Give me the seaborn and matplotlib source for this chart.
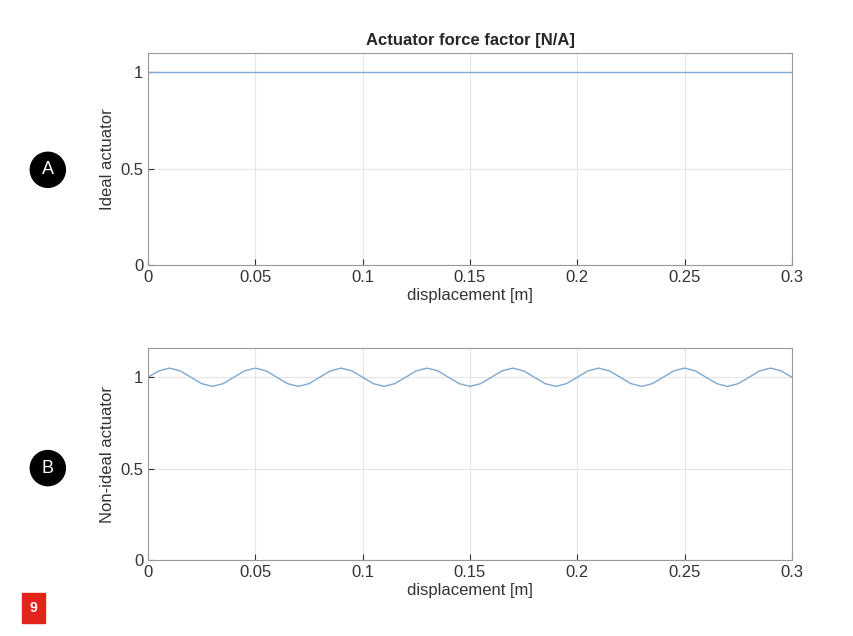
import matplotlib
matplotlib.use("Agg")
import matplotlib.pyplot as plt
import seaborn as sns
import pandas as pd

sns.set_style("whitegrid")
plt.rcParams["font.family"] = ["Liberation Sans", "DejaVu Sans"]

# displacement samples [m], step 0.005
x_vals = [i * 0.005 for i in range(61)]
# ideal actuator: constant force factor
ideal_vals = [1.0] * 61
# non-ideal actuator: ripple (period 0.04 m, amplitude ~0.05)
nonideal_vals = [
    1.000, 1.035, 1.050, 1.035, 1.000, 0.965, 0.950, 0.965,
    1.000, 1.035, 1.050, 1.035, 1.000, 0.965, 0.950, 0.965,
    1.000, 1.035, 1.050, 1.035, 1.000, 0.965, 0.950, 0.965,
    1.000, 1.035, 1.050, 1.035, 1.000, 0.965, 0.950, 0.965,
    1.000, 1.035, 1.050, 1.035, 1.000, 0.965, 0.950, 0.965,
    1.000, 1.035, 1.050, 1.035, 1.000, 0.965, 0.950, 0.965,
    1.000, 1.035, 1.050, 1.035, 1.000, 0.965, 0.950, 0.965,
    1.000, 1.035, 1.050, 1.035, 1.000,
]
x_ticks = [0, 0.05, 0.1, 0.15, 0.2, 0.25, 0.3]
x_labels = ["0", "0.05", "0.1", "0.15", "0.2", "0.25", "0.3"]

df = pd.DataFrame({"x": x_vals, "ideal": ideal_vals, "nonideal": nonideal_vals})

fig = plt.figure(figsize=(8.54, 6.36), dpi=100)
ax1 = fig.add_axes([0.1733, 0.5833, 0.754, 0.3333])
ax2 = fig.add_axes([0.1733, 0.1195, 0.754, 0.3333])

line_color = "#7fa9cf"
panels = [(ax1, "ideal", "Ideal actuator", 1.1),
          (ax2, "nonideal", "Non-ideal actuator", 1.16)]
for ax, col, ylab, ytop in panels:
    sns.lineplot(data=df, x="x", y=col, ax=ax, color=line_color, linewidth=1.0)
    ax.set_xlim(0, 0.3)
    ax.set_ylim(0, ytop)
    ax.set_xticks(x_ticks)
    ax.set_xticklabels(x_labels)
    ax.set_yticks([0, 0.5, 1])
    ax.set_yticklabels(["0", "0.5", "1"])
    ax.set_xlabel("displacement [m]", fontsize=12, color="#333333", labelpad=2)
    ax.set_ylabel(ylab, fontsize=12, color="#333333")
    ax.tick_params(direction="in", length=4, labelsize=12, colors="#333333",
                   left=True, bottom=True)
    ax.grid(True, color="#e6e6e6", linewidth=0.8)
    for s in ax.spines.values():
        s.set_color("#999999")
        s.set_linewidth(0.8)

ax1.set_title("Actuator force factor [N/A]", fontsize=12, fontweight="bold")

# circled panel markers
for label, y in [("A", 0.733), ("B", 0.264)]:
    fig.text(0.056, y, label, ha="center", va="center", color="white",
             fontsize=13, bbox=dict(boxstyle="circle,pad=0.5", fc="black", ec="black"))

# red figure number badge
fig.text(0.039, 0.044, "9", ha="center", va="center", color="white",
         fontsize=10, fontweight="bold",
         bbox=dict(boxstyle="square,pad=0.55", fc="#e3241b", ec="#e3241b"))

fig.savefig("out.png", dpi=100)
